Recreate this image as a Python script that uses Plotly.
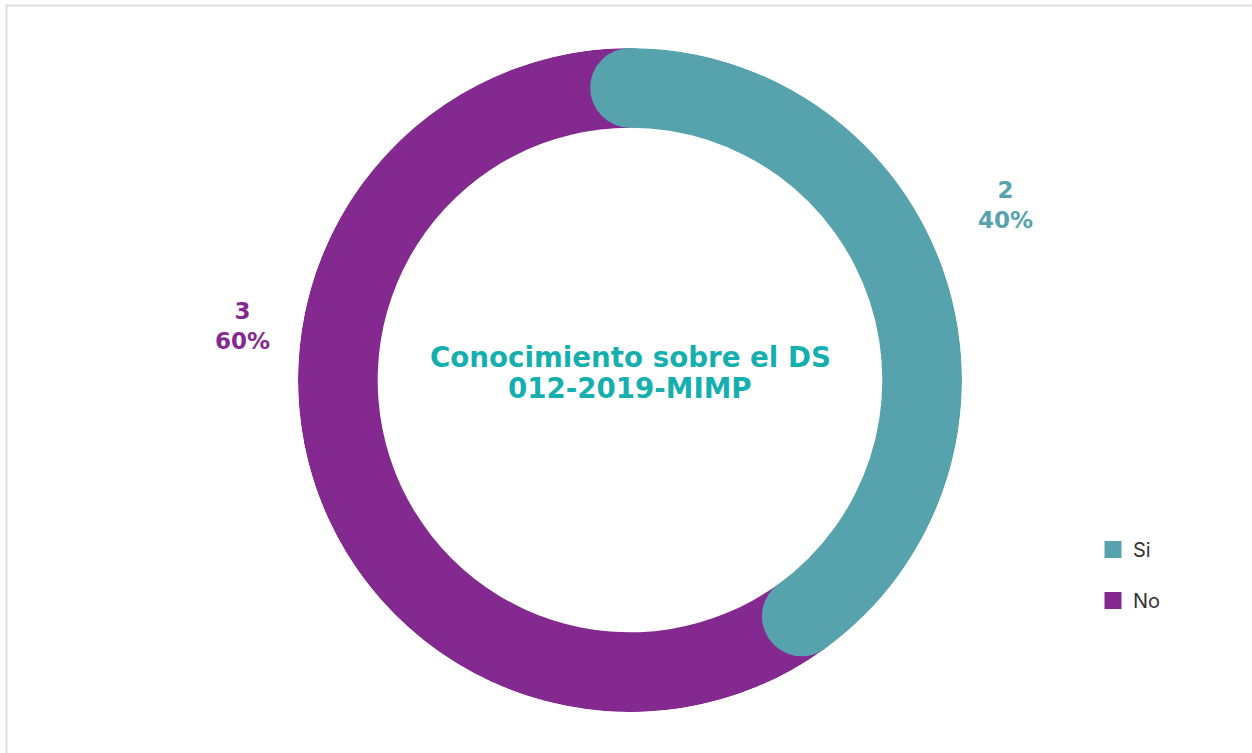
import plotly.graph_objects as go

categories = ["Si", "No"]
values = [2, 3]
colors = ["#56A3AD", "#84298F"]
title_lines = ["Conocimiento sobre el DS", "012-2019-MIMP"]

W, H = 1252, 753
cx, cy, R = 630, 380, 332
hole = 0.76

total = sum(values)
pcts = [v / total for v in values]
starts = []
acc = 0.0
for p in pcts:
    starts.append(acc * 360)
    acc += p
widths = [p * 360 for p in pcts]
centers = [s + w / 2 for s, w in zip(starts, widths)]

fig = go.Figure()

# ring: purple first (underneath), then teal
for i in [1, 0]:
    fig.add_trace(go.Barpolar(
        r=[1 - hole], base=[hole], theta=[centers[i]], width=[widths[i]],
        name=categories[i], marker=dict(color=colors[i], line=dict(width=0)),
        showlegend=False, hoverinfo="skip",
    ))

# rounded caps of the first segment
thick_px = (1 - hole) * R
fig.add_trace(go.Scatterpolar(
    r=[(1 + hole) / 2, (1 + hole) / 2],
    theta=[starts[0], starts[0] + widths[0]],
    mode="markers",
    marker=dict(size=thick_px, color=colors[0], line=dict(width=0)),
    showlegend=False, hoverinfo="skip",
))

# legend entries
for i in range(len(categories)):
    fig.add_trace(go.Barpolar(
        r=[None], theta=[None], name=categories[i],
        marker=dict(color=colors[i], line=dict(color=colors[i], width=5)),
        legendgroup=categories[i], hoverinfo="skip",
    ))

dom_x = [(cx - R) / W, (cx + R) / W]
dom_y = [(H - cy - R) / H, (H - cy + R) / H]

fig.update_layout(
    width=W, height=H,
    margin=dict(l=0, r=0, t=0, b=0),
    paper_bgcolor="white",
    font=dict(family="Inter, Lato, sans-serif"),
    polar=dict(
        domain=dict(x=dom_x, y=dom_y),
        bgcolor="rgba(0,0,0,0)",
        radialaxis=dict(range=[0, 1], visible=False, showgrid=False),
        angularaxis=dict(rotation=90, direction="clockwise", visible=False, showgrid=False),
        bargap=0,
    ),
    showlegend=True,
    legend=dict(
        x=1093 / W, xanchor="left", y=(H - 530) / H, yanchor="top",
        traceorder="grouped", tracegroupgap=22,
        font=dict(size=20, color="#333333", family="Inter, sans-serif"),
        bgcolor="rgba(0,0,0,0)",
    ),
)

# centre title
title_y = [357, 388]
for line, ty in zip(title_lines, title_y):
    fig.add_annotation(
        x=cx / W, y=(H - ty) / H, xref="paper", yref="paper",
        xanchor="center", yanchor="middle",
        text=line, showarrow=False,
        font=dict(size=27.7, color="#14AFAE", family="DejaVu Sans", weight="bold"),
    )

# value labels
label_pos = [(1005, 205), (242, 326)]
for i in range(len(values)):
    lx, ly = label_pos[i]
    fig.add_annotation(
        x=lx / W, y=(H - ly) / H, xref="paper", yref="paper",
        xanchor="center", yanchor="middle",
        text=f"{values[i]}<br>{round(pcts[i] * 100)}%", showarrow=False,
        font=dict(size=23, color=colors[i], family="DejaVu Sans", weight="bold"),
        align="center",
    )

# card border
fig.add_shape(type="rect", xref="paper", yref="paper",
              x0=6.5 / W, x1=1.05, y0=-0.05, y1=(H - 5.5) / H,
              line=dict(color="#DDDDDD", width=2), fillcolor="rgba(0,0,0,0)", layer="below")

fig.write_html("out.html", config={"displayModeBar": False},
               post_script="document.body.style.margin='0px';")
